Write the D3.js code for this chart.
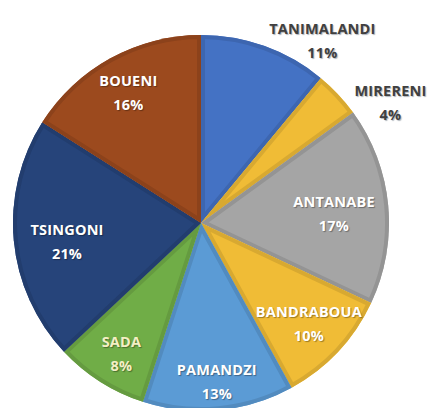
<!DOCTYPE html>
<html>
<head>
<meta charset="utf-8">
<script src="https://cdn.jsdelivr.net/npm/d3@7"></script>
<style>
  html, body { margin: 0; padding: 0; background: #fff; }
  svg { display: block; }
  .lbl { font-family: "Open Sans", Lato, sans-serif; font-weight: bold; font-size: 14.5px; letter-spacing: 0.2px; }
</style>
</head>
<body>
<div id="chart"></div>
<script>
// ── Data ─────────────────────────────────────────────────────────────────
const communes = ["TANIMALANDI", "MIRERENI", "ANTANABE", "BANDRABOUA", "PAMANDZI", "SADA", "TSINGONI", "BOUENI"];
const shares = [11, 4, 17, 10, 13, 8, 21, 16];
const sliceColors = ["#4472C4", "#F0BC36", "#A5A5A5", "#F0BC36", "#5B9BD5", "#70AD47", "#26447A", "#9C4A1E"];

// ── Layout ───────────────────────────────────────────────────────────────
const width = 433, height = 408;
const cx = 201, cy = 223, radius = 188;
const lineGap = 24;

// labels outside the pie, dark text; the others sit inside in white
const outside = new Set(["TANIMALANDI", "MIRERENI"]);
const textColor = { SADA: "#F3EFC4" };
// small hand nudges (like Excel "best fit") applied to centroid positions
const nudge = {
  TANIMALANDI: [50, 15], MIRERENI: [36, 23], ANTANABE: [-13, 4], BANDRABOUA: [1, 0],
  PAMANDZI: [2, 12], SADA: [-1, 6], TSINGONI: [12, 4], BOUENI: [-2, -3]
};

const rows = communes.map((name, i) => ({ name, value: shares[i], color: sliceColors[i] }));

const svg = d3.select("#chart").append("svg")
  .attr("width", width).attr("height", height);

const defs = svg.append("defs");
const g = svg.append("g").attr("transform", `translate(${cx},${cy})`);

const pie = d3.pie().sort(null).value(d => d.value);
const arc = d3.arc().innerRadius(0).outerRadius(radius);
const inLabelArc = d3.arc().innerRadius(radius * 0.78).outerRadius(radius * 0.78);
const outLabelArc = d3.arc().innerRadius(radius * 1.12).outerRadius(radius * 1.12);

const arcs = pie(rows);

// ── Slices with inner darker border ─────────────────────────────────────
arcs.forEach((a, i) => {
  const id = `clip-${i}`;
  defs.append("clipPath").attr("id", id)
    .append("path").attr("d", arc(a));

  g.append("path")
    .attr("d", arc(a))
    .attr("fill", a.data.color);

  g.append("path")
    .attr("d", arc(a))
    .attr("fill", "none")
    .attr("stroke", d3.color(a.data.color).darker(0.3))
    .attr("stroke-width", 8)
    .attr("stroke-linejoin", "round")
    .attr("clip-path", `url(#${id})`);
});

// ── Labels ───────────────────────────────────────────────────────────────
arcs.forEach(a => {
  const name = a.data.name;
  const isOut = outside.has(name);
  const [x0, y0] = (isOut ? outLabelArc : inLabelArc).centroid(a);
  const [dx, dy] = nudge[name] || [0, 0];
  const x = x0 + dx, y = y0 + dy;
  const fill = isOut ? "#404040" : (textColor[name] || "#FFFFFF");

  const t = g.append("text")
    .attr("class", "lbl")
    .attr("text-anchor", "middle")
    .attr("dominant-baseline", "central")
    .attr("fill", fill)
    .style("text-shadow", isOut ? "1px 1px 1px rgba(120,130,140,0.6)" : "1px 1px 1px rgba(0,0,0,0.35)");

  t.append("tspan").attr("x", x).attr("y", y - lineGap / 2).text(name);
  t.append("tspan").attr("x", x).attr("y", y + lineGap / 2).text(`${a.data.value}%`);
});
</script>
</body>
</html>
